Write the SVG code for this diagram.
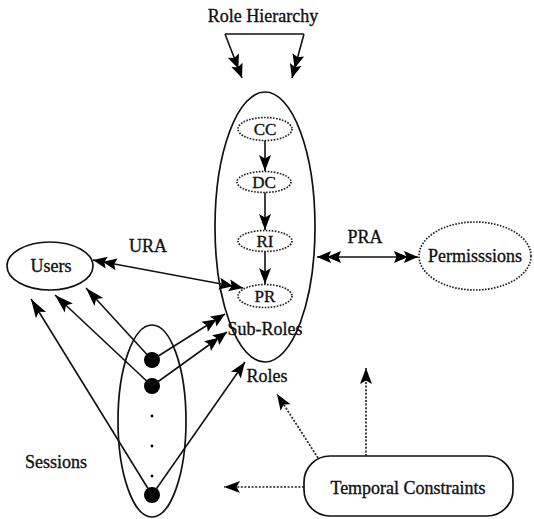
<svg xmlns="http://www.w3.org/2000/svg" width="534" height="519" viewBox="0 0 534 519">
  <style>
    text { font-family: "Liberation Serif", "Times New Roman", serif; fill: #111; stroke: #111; stroke-width: 0.35; text-anchor: middle; }
    .lbl { font-size: 18px; }
    .small { font-size: 17px; }
    .solid { fill: none; stroke: #111; stroke-width: 1.7; }
    .dotted { fill: none; stroke: #222; stroke-width: 1.7; stroke-dasharray: 1.6 1.4; }
    .link { fill: none; stroke: #111; stroke-width: 1.6; }
    .dlink { fill: none; stroke: #222; stroke-width: 1.7; stroke-dasharray: 2 1.6; }
    .dot { fill: #000; }
  </style>
  <defs>
    <!-- single filled arrowhead, tip at the path end -->
    <marker id="head" markerUnits="userSpaceOnUse" markerWidth="18" markerHeight="13" refX="17" refY="6.5" orient="auto" overflow="visible">
      <path d="M17,6.5 L1,0.5 L4.5,6.5 L1,12.5 Z" fill="#000"/>
    </marker>
    <!-- long single arrowhead used on the session-to-user links -->
    <marker id="headLong" markerUnits="userSpaceOnUse" markerWidth="22" markerHeight="13" refX="20" refY="6.5" orient="auto" overflow="visible">
      <path d="M20,6.5 L1,0.5 L5,6.5 L1,12.5 Z" fill="#000"/>
    </marker>
    <!-- doubled arrowhead -->
    <marker id="dhead" markerUnits="userSpaceOnUse" markerWidth="26" markerHeight="13" refX="24" refY="6.5" orient="auto-start-reverse" overflow="visible">
      <path d="M24,6.5 L10,0.5 L12.5,6.5 L10,12.5 Z M14,6.5 L0,0.5 L2.5,6.5 L0,12.5 Z" fill="#000"/>
    </marker>
  </defs>

  <!-- role hierarchy title -->
  <g id="role-hierarchy">
    <text class="lbl" x="263" y="22">Role Hierarchy</text>
  </g>

  <!-- roles container with nested sub-roles -->
  <g id="roles">
    <ellipse class="solid" cx="265" cy="227" rx="50" ry="135"/>
    <text class="lbl" x="267" y="382">Roles</text>
  </g>
  <g id="sub-roles">
    <text class="lbl" x="265" y="335">Sub-Roles</text>
  </g>
  <g id="role-cc">
    <ellipse class="dotted" cx="265" cy="129" rx="27" ry="11.5"/>
    <text class="small" x="265" y="135">CC</text>
  </g>
  <g id="role-dc">
    <ellipse class="dotted" cx="264" cy="182" rx="27" ry="10.5"/>
    <text class="small" x="264" y="188">DC</text>
  </g>
  <g id="role-ri">
    <ellipse class="dotted" cx="265" cy="241" rx="27" ry="10.5"/>
    <text class="small" x="265" y="247">RI</text>
  </g>
  <g id="role-pr">
    <ellipse class="dotted" cx="265" cy="296" rx="27" ry="11.5"/>
    <text class="small" x="265" y="302">PR</text>
  </g>

  <!-- users -->
  <g id="users">
    <ellipse class="solid" cx="50" cy="266" rx="43" ry="24"/>
    <text class="lbl" x="51" y="272">Users</text>
  </g>

  <!-- permissions -->
  <g id="permissions">
    <ellipse class="dotted" cx="475" cy="256" rx="56" ry="34"/>
    <text class="lbl" x="475" y="262">Permisssions</text>
  </g>

  <!-- sessions -->
  <g id="sessions">
    <ellipse class="solid" cx="152" cy="421" rx="34" ry="96"/>
    <circle class="dot" cx="152" cy="360" r="8"/>
    <circle class="dot" cx="152" cy="386" r="8"/>
    <circle class="dot" cx="152" cy="416" r="1.4"/>
    <circle class="dot" cx="152" cy="446" r="1.4"/>
    <circle class="dot" cx="152" cy="476" r="1.4"/>
    <circle class="dot" cx="152" cy="495" r="8"/>
    <text class="lbl" x="56" y="468">Sessions</text>
  </g>

  <!-- temporal constraints -->
  <g id="temporal-constraints">
    <rect class="solid" x="304" y="456" width="209" height="60" rx="26" ry="26"/>
    <text class="lbl" x="408" y="494">Temporal Constraints</text>
  </g>

  <!-- connectors -->
  <g id="connectors">
    <!-- role hierarchy bracket -->
    <path class="link" d="M225,34 L304,34"/>
    <path class="link" d="M225,34 L242,78" marker-end="url(#dhead)"/>
    <path class="link" d="M304,34 L292,78" marker-end="url(#dhead)"/>

    <!-- inheritance chain -->
    <path class="link" d="M265,140.5 L265,171" marker-end="url(#head)"/>
    <path class="link" d="M265,192.5 L265,230" marker-end="url(#head)"/>
    <path class="link" d="M265,251.5 L265,284" marker-end="url(#head)"/>

    <!-- URA and PRA -->
    <path class="link" d="M93,260 L243,288" marker-start="url(#dhead)" marker-end="url(#dhead)"/>
    <path class="link" d="M317,257 L418,257" marker-start="url(#dhead)" marker-end="url(#dhead)"/>
    <text class="lbl" x="148" y="252">URA</text>
    <text class="lbl" x="365" y="243">PRA</text>

    <!-- sessions to users -->
    <path class="link" d="M152,360 L86,288" marker-end="url(#headLong)"/>
    <path class="link" d="M152,386 L55,295" marker-end="url(#headLong)"/>
    <path class="link" d="M152,495 L31,299" marker-end="url(#headLong)"/>

    <!-- sessions to roles -->
    <path class="link" d="M152,360 L225,314" marker-end="url(#dhead)"/>
    <path class="link" d="M152,386 L227,332" marker-end="url(#dhead)"/>
    <path class="link" d="M152,495 L245,362" marker-end="url(#head)"/>

    <!-- temporal constraints applied to roles, role assignment and sessions -->
    <path class="dlink" d="M366,456 L366,368" marker-end="url(#head)"/>
    <path class="dlink" d="M318,458 L277,394" marker-end="url(#head)"/>
    <path class="dlink" d="M304,487 L224,487" marker-end="url(#head)"/>
  </g>
</svg>
